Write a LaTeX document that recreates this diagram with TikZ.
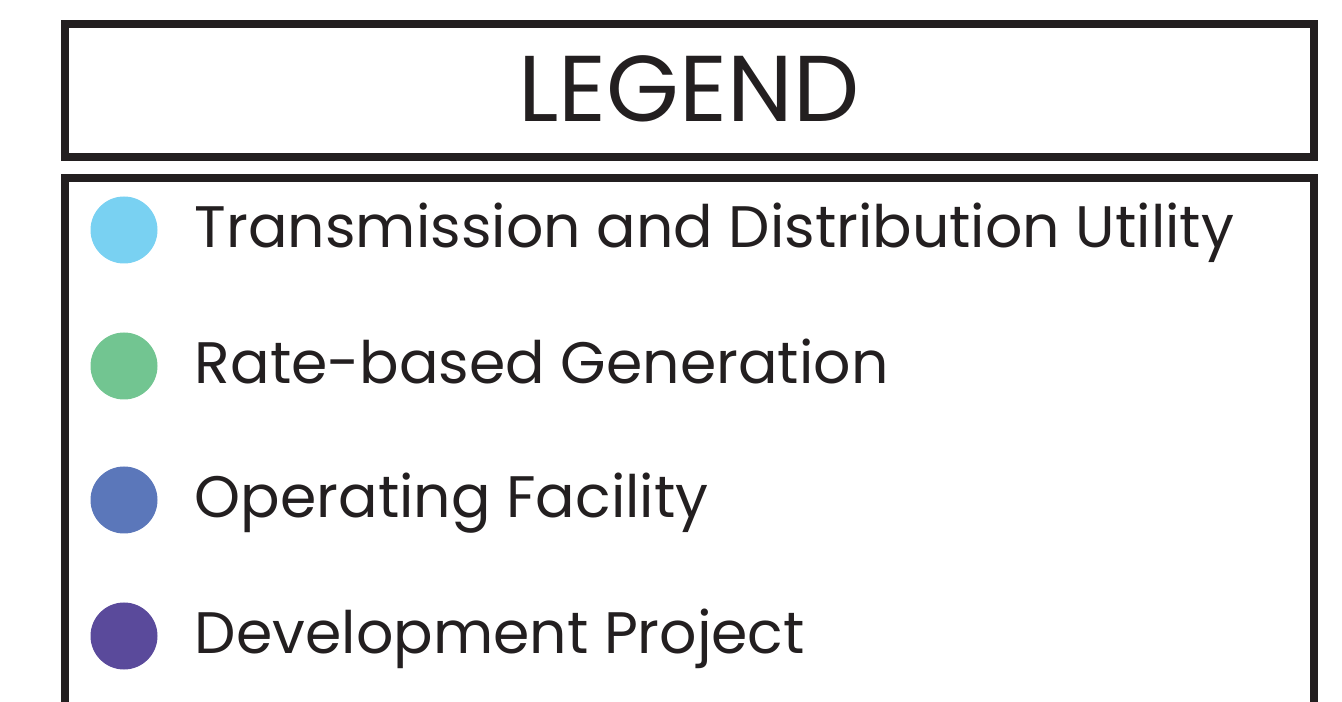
\documentclass[tikz,border=0pt]{standalone}
\usepackage{fontspec}
\setmainfont{Poppins}
\usetikzlibrary{positioning}

\definecolor{inkdark}{HTML}{231F20}
\definecolor{tdblue}{HTML}{79D1F2}
\definecolor{rategreen}{HTML}{72C591}
\definecolor{opblue}{HTML}{5B77BA}
\definecolor{devpurple}{HTML}{5A4A9B}

\begin{document}
\begin{tikzpicture}[
    frame/.style={draw=inkdark, line width=0.08cm},
    dot/.style={circle, inner sep=0, minimum size=0.67cm},
    label/.style={text=inkdark, inner sep=0, text height=0.36cm, text depth=0pt,
      font=\fontsize{16.65}{20}\selectfont}
  ]
  \useasboundingbox (0,0) rectangle (13.42,-7.02);
  \clip (0,0) rectangle (13.42,-7.02);

  % title box
  \draw[frame] (0.65,-0.24) rectangle (13.14,-1.57);
  \node[text=inkdark, inner sep=0, font=\fontsize{26.6}{32}\selectfont] (title)
    at (6.89,-0.885) {LEGEND};

  % key box, runs off the bottom
  \draw[frame] (0.65,-1.78) rectangle (13.14,-7.6);

  \node[dot, fill=tdblue] (dot1) at (1.24,-2.30) {};
  \node[dot, fill=rategreen] (dot2) at (1.24,-3.66) {};
  \node[dot, fill=opblue] (dot3) at (1.24,-5.00) {};
  \node[dot, fill=devpurple] (dot4) at (1.24,-6.36) {};

  \node[label, right=0.36cm of dot1] (lab1) {Transmission and Distribution Utility};
  \node[label, right=0.36cm of dot2] (lab2) {Rate-based Generation};
  \node[label, right=0.36cm of dot3] (lab3) {Operating Facility};
  \node[label, right=0.36cm of dot4] (lab4) {Development Project};
\end{tikzpicture}
\end{document}
